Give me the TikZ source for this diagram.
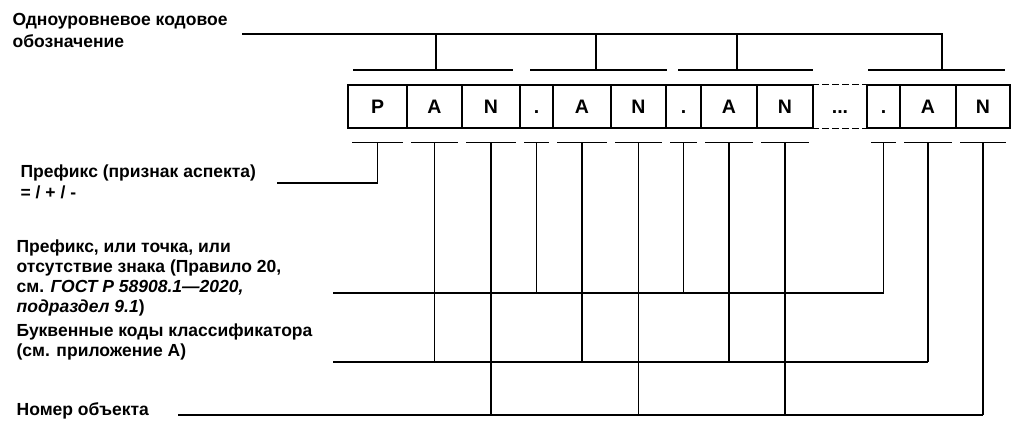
\documentclass[tikz,border=0pt]{standalone}
\usepackage{fontspec}
\setmainfont{Liberation Sans}
\usetikzlibrary{calc}
\begin{document}
\begin{tikzpicture}[x=1pt,y=-1pt,line width=1.3pt,
  lbl/.style={font=\fontsize{17.5}{20.5}\selectfont\bfseries,anchor=base west,inner sep=0pt},
  cellbox/.style={draw,minimum height=43pt,inner sep=0pt,text height=14pt,text depth=0pt,font=\fontsize{19.5}{20}\selectfont\bfseries},
  cellopen/.style={minimum height=43pt,inner sep=0pt,text height=14pt,text depth=0pt,font=\fontsize{19.5}{20}\selectfont\bfseries}]
\useasboundingbox (0,0) rectangle (1011,420);
% cells
\node[cellbox,minimum width=59pt] (P)  at (377.5,106.5) {P};
\node[cellbox,minimum width=55pt] (A1) at (434.5,106.5) {A};
\node[cellbox,minimum width=58pt] (N1) at (491,106.5) {N};
\node[cellbox,minimum width=33pt] (d1) at (536.5,106.5) {.};
\node[cellbox,minimum width=58pt] (A2) at (582,106.5) {A};
\node[cellbox,minimum width=55pt] (N2) at (638.5,106.5) {N};
\node[cellbox,minimum width=35pt] (d2) at (683.5,106.5) {.};
\node[cellbox,minimum width=56pt] (A3) at (729,106.5) {A};
\node[cellbox,minimum width=56pt] (N3) at (785,106.5) {N};
\node[cellopen,minimum width=54pt] (dd) at (840,106.5) {...};
\node[cellbox,minimum width=33pt] (d3) at (883.5,106.5) {.};
\node[cellbox,minimum width=56pt] (A4) at (928,106.5) {A};
\node[cellbox,minimum width=54pt] (N4) at (983,106.5) {N};
\draw[dash pattern=on 7pt off 3pt] (dd.north west) -- (dd.north east);
\draw[dash pattern=on 7pt off 3pt] (dd.south west) -- (dd.south east);
% ticks below cells
\foreach \c in {P,A1,N1,d1,A2,N2,d2,A3,N3,d3,A4,N4} {
  \coordinate (t\c) at ($(\c.south)+(0,14)$);
  \draw ($(\c.south west)+(5,14)$) -- ($(\c.south east)+(-5,14)$);
}
% top brackets
\coordinate (topL) at (242,34);
\coordinate (g1) at (436,70);
\coordinate (g2) at (596,70);
\coordinate (g3) at (737,70);
\coordinate (g4) at (942,70);
\draw (353,70) -- (513,70);
\draw (530,70) -- (667,70);
\draw (678,70) -- (813,70);
\draw (868,70) -- (1005,70);
\draw (topL) -- (g4 |- topL) -- (g4);
\foreach \g in {g1,g2,g3} \draw (\g) -- (\g |- topL);
% prefix
\coordinate (pfx) at (277,183);
\draw (tP) |- (pfx);
% prefix or dot
\coordinate (dotL) at (333,293);
\draw (dotL) -- (td3 |- dotL);
\foreach \c in {d1,d2,d3} \draw (t\c) -- (t\c |- dotL);
% letter codes
\coordinate (letL) at (333,362);
\draw (letL) -- (tA4 |- letL);
\foreach \c in {A1,A2,A3,A4} \draw (t\c) -- (t\c |- letL);
% object number
\coordinate (numL) at (178,415);
\draw (numL) -- (tN4 |- numL);
\foreach \c in {N1,N2,N3,N4} \draw (t\c) -- (t\c |- numL);
% labels
\node[lbl] (l1a) at (12,26) {Одноуровневое кодовое};
\node[lbl] (l1b) at (12,48) {обозначение};
\node[lbl] (l2a) at (20,177) {Префикс (признак аспекта)};
\node[lbl] (l2b) at (20,198) {= / + / -};
\node[lbl] (l3a) at (16,252) {Префикс, или точка, или};
\node[lbl] (l3b) at (16,272) {отсутствие знака (Правило 20,};
\node[lbl] (l3c) at (16,292) {см. \itshape ГОСТ Р 58908.1—2020,};
\node[lbl] (l3d) at (16,312) {\itshape подраздел 9.1\upshape)};
\node[lbl] (l4a) at (16,336) {Буквенные коды классификатора};
\node[lbl] (l4b) at (16,356) {(см. приложение А)};
\node[lbl] (l5) at (16,415) {Номер объекта};
\end{tikzpicture}
\end{document}
